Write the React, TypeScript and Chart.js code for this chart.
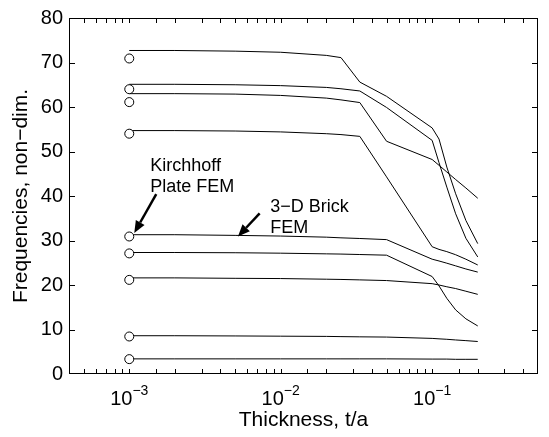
import React, { useEffect, useRef } from 'react';
import { Chart, registerables } from 'chart.js';

Chart.register(...registerables);

// Thickness ratios t/a used by the 3-D brick FEM runs
const thickness = [0.001, 0.002, 0.005, 0.01, 0.02, 0.025, 0.0333, 0.05, 0.1, 0.111, 0.125, 0.143, 0.167, 0.2];

// 3-D brick FEM frequencies (non-dimensional), one array per traced curve
const brickCurve1 = [72.7, 72.7, 72.55, 72.3, 71.6, 71.1, 65.6, 62.4, 55.3, 52.8, 46.5, 40.5, 34.5, 29.3];
const brickCurve2 = [65.1, 65.1, 65.0, 64.8, 64.4, 64.1, 63.6, 59.9, 52.5, 47.5, 42.0, 36.0, 30.5, 26.3];
const brickCurve3 = [63.0, 63.0, 62.9, 62.6, 62.0, 61.6, 61.0, 52.3, 48.2, 46.9, 45.4, 43.7, 41.8, 39.5];
const brickCurve4 = [54.7, 54.7, 54.6, 54.4, 54.0, 53.8, 53.4, 44.3, 28.6, 28.0, 27.5, 26.8, 25.8, 24.5];
const brickCurve5 = [31.3, 31.3, 31.15, 31.0, 30.75, 30.6, 30.45, 30.2, 25.8, 25.4, 24.9, 24.3, 23.6, 22.9];
const brickCurve6 = [27.3, 27.3, 27.25, 27.15, 27.0, 26.95, 26.85, 26.7, 21.9, 19.8, 17.0, 14.4, 12.4, 10.8];
const brickCurve7 = [21.6, 21.6, 21.5, 21.45, 21.3, 21.25, 21.15, 21.0, 20.3, 20.0, 19.6, 19.2, 18.6, 17.9];
const brickCurve8 = [8.6, 8.6, 8.55, 8.5, 8.45, 8.4, 8.35, 8.3, 8.0, 7.9, 7.8, 7.65, 7.5, 7.3];
const brickCurve9 = [3.4, 3.4, 3.4, 3.4, 3.4, 3.4, 3.4, 3.4, 3.35, 3.35, 3.35, 3.3, 3.3, 3.3];

// Kirchhoff plate FEM results (at t/a = 1e-3)
const kirchhoffThickness = 0.001;
const kirchhoffFreqs = [70.9, 64.0, 61.1, 54.0, 30.9, 27.1, 21.15, 8.43, 3.34];

// Axis settings
const xMin = 4e-4;
const xMax = 0.5;
const yMin = 0;
const yMax = 80;
const yStep = 10;

const xTitle = 'Thickness, t/a';
const yTitle = 'Frequencies, non\u2212dim.';

// Annotations (data coordinates)
const annoTexts = [
  { text: 'Kirchhoff', x: 1.377e-3, y: 45.7 },
  { text: 'Plate FEM', x: 1.377e-3, y: 40.9 },
  { text: '3\u2212D Brick', x: 8.53e-3, y: 36.3 },
  { text: 'FEM', x: 8.53e-3, y: 31.7 },
];
const annoArrows = [
  { x1: 1.507e-3, y1: 40.4, x2: 1.079e-3, y2: 31.7 },
  { x1: 7.26e-3, y1: 36.1, x2: 5.22e-3, y2: 30.9 },
];

const FONT = "'Liberation Sans', Arial, Helvetica, sans-serif";

const brickCurves = [brickCurve1, brickCurve2, brickCurve3, brickCurve4, brickCurve5, brickCurve6, brickCurve7, brickCurve8, brickCurve9];

const framePlugin = {
  id: 'framePlugin',
  afterDatasetsDraw(chart: any) {
    const { ctx, chartArea, scales } = chart;
    const { left, right, top, bottom } = chartArea;
    const xs = scales.x;
    const ys = scales.y;
    ctx.save();
    ctx.strokeStyle = '#000';
    ctx.lineWidth = 1;
    // box
    ctx.strokeRect(Math.round(left) + 0.5, Math.round(top) + 0.5, Math.round(right) - Math.round(left) - 1, Math.round(bottom) - Math.round(top) - 1);
    // x ticks (inward, bottom and top)
    ctx.beginPath();
    for (const t of xs.ticks) {
      if (t.value <= xMin * 1.0001 || t.value >= xMax * 0.9999) continue;
      const px = Math.round(xs.getPixelForValue(t.value)) + 0.5;
      const len = 4;
      ctx.moveTo(px, bottom - 1);
      ctx.lineTo(px, bottom - 1 - len);
      ctx.moveTo(px, top + 1);
      ctx.lineTo(px, top + 1 + len);
    }
    // y ticks (inward, left and right)
    for (const t of ys.ticks) {
      if (t.value <= yMin || t.value >= yMax) continue;
      const py = Math.round(ys.getPixelForValue(t.value)) + 0.5;
      const len = 5;
      ctx.moveTo(left + 1, py);
      ctx.lineTo(left + 1 + len, py);
      ctx.moveTo(right - 1, py);
      ctx.lineTo(right - 1 - len, py);
    }
    ctx.stroke();

    // x tick labels: powers of ten with superscript exponent
    ctx.fillStyle = '#000';
    ctx.textBaseline = 'alphabetic';
    ctx.textAlign = 'left';
    for (const t of xs.ticks) {
      const e = Math.log10(t.value);
      if (Math.abs(e - Math.round(e)) > 1e-6) continue;
      const exp = Math.round(e);
      const base = '10';
      const sup = (exp < 0 ? '\u2212' : '') + Math.abs(exp);
      ctx.font = `20px ${FONT}`;
      const wb = ctx.measureText(base).width;
      ctx.font = `14px ${FONT}`;
      const ws = ctx.measureText(sup).width;
      const px = xs.getPixelForValue(t.value);
      const x0 = px - (wb + ws) / 2;
      ctx.font = `20px ${FONT}`;
      ctx.fillText(base, x0, bottom + 31);
      ctx.font = `14px ${FONT}`;
      ctx.fillText(sup, x0 + wb, bottom + 21);
    }

    // annotations
    ctx.font = `18px ${FONT}`;
    for (const a of annoTexts) {
      ctx.fillText(a.text, xs.getPixelForValue(a.x), ys.getPixelForValue(a.y));
    }
    for (const a of annoArrows) {
      const x1 = xs.getPixelForValue(a.x1);
      const y1 = ys.getPixelForValue(a.y1);
      const x2 = xs.getPixelForValue(a.x2);
      const y2 = ys.getPixelForValue(a.y2);
      const ang = Math.atan2(y2 - y1, x2 - x1);
      const headLen = 12;
      const headW = 5;
      const bx = x2 - headLen * Math.cos(ang);
      const by = y2 - headLen * Math.sin(ang);
      ctx.lineWidth = 2.5;
      ctx.beginPath();
      ctx.moveTo(x1, y1);
      ctx.lineTo(bx, by);
      ctx.stroke();
      ctx.beginPath();
      ctx.moveTo(x2, y2);
      ctx.lineTo(bx + headW * Math.sin(ang), by - headW * Math.cos(ang));
      ctx.lineTo(bx - headW * Math.sin(ang), by + headW * Math.cos(ang));
      ctx.closePath();
      ctx.fill();
    }
    ctx.restore();
  },
};

export default function App() {
  const canvasRef = useRef<HTMLCanvasElement | null>(null);

  useEffect(() => {
    const canvas = canvasRef.current;
    if (!canvas) return;

    const lineSets = brickCurves.map((curve) => ({
      type: 'line' as const,
      data: thickness.map((t, i) => ({ x: t, y: curve[i] })),
      borderColor: '#000',
      borderWidth: 1,
      pointRadius: 0,
      tension: 0,
      fill: false,
      order: 2,
    }));

    const circleSet = {
      type: 'scatter' as const,
      data: kirchhoffFreqs.map((f) => ({ x: kirchhoffThickness, y: f })),
      pointRadius: 4.5,
      pointBackgroundColor: '#fff',
      pointBorderColor: '#000',
      pointBorderWidth: 1,
      showLine: false,
      order: 1,
    };

    const chart = new Chart(canvas, {
      type: 'line',
      data: { datasets: [...lineSets, circleSet] as any },
      options: {
        animation: false,
        responsive: false,
        devicePixelRatio: 1,
        layout: { padding: { top: 8, right: 11, left: 0, bottom: 0 } },
        plugins: { legend: { display: false }, tooltip: { enabled: false } },
        font: { family: FONT },
        scales: {
          x: {
            type: 'logarithmic',
            min: xMin,
            max: xMax,
            grid: { display: false, drawTicks: false },
            border: { display: false },
            ticks: { display: false },
            title: {
              display: true,
              text: xTitle,
              color: '#000',
              font: { family: FONT, size: 21 },
              padding: { top: 0, bottom: 4 },
            },
            afterFit: (scale: any) => {
              scale.height = 63;
            },
          },
          y: {
            type: 'linear',
            min: yMin,
            max: yMax,
            grid: { display: false, drawTicks: false },
            border: { display: false },
            ticks: {
              stepSize: yStep,
              color: '#000',
              font: { family: FONT, size: 20 },
              padding: 6,
            },
            title: {
              display: true,
              text: yTitle,
              color: '#000',
              font: { family: FONT, size: 21 },
              padding: { top: 9, bottom: 0 },
            },
            afterFit: (scale: any) => {
              scale.width = 69;
            },
          },
        },
      } as any,
      plugins: [framePlugin],
    });

    return () => chart.destroy();
  }, []);

  return (
    <div style={{ position: 'absolute', left: 0, top: 0, width: 549, height: 437, background: '#fff' }}>
      <canvas ref={canvasRef} width={549} height={437} />
    </div>
  );
}
